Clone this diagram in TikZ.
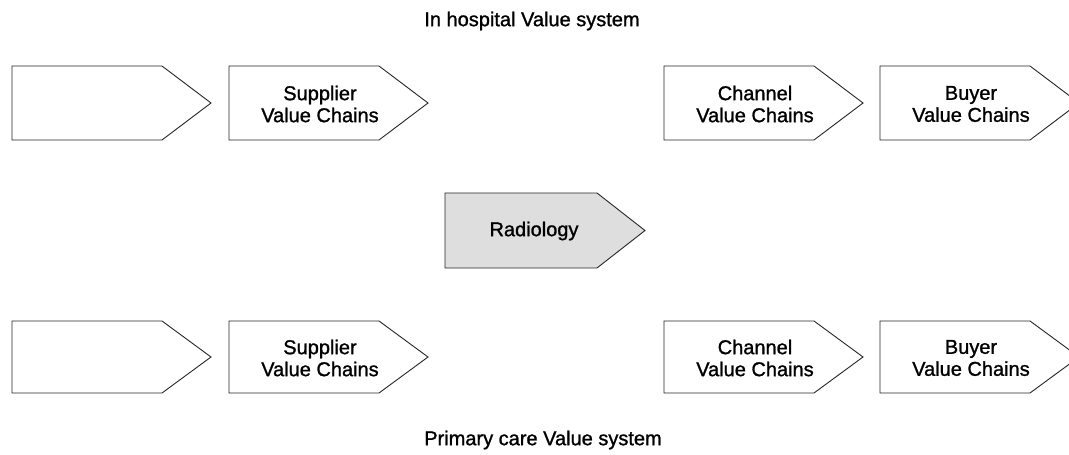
\documentclass[tikz,border=0pt]{standalone}
\usepackage{fontspec}
\setmainfont{Liberation Sans}
\newfontfamily\diagfont{Liberation Sans}[FakeBold=1.2]
\definecolor{radfill}{HTML}{DEDEDE}
\tikzset{
  chevbox/.style={draw=black!85, line width=0.9pt, fill=white, line join=miter},
  chevrad/.style={chevbox, fill=radfill},
  boxtext/.style={font=\diagfont\fontsize{20}{22}\selectfont, align=center, inner sep=0pt},
  titletext/.style={font=\diagfont\fontsize{20}{22}\selectfont, inner sep=0pt}
}
% #1 style, #2 left x, #3 top y, #4 bottom y, #5 name
\newcommand\chevshape[5]{%
  \path[#1] (#2,#3) -- ++(150,0) -- ($(#2,#3)!0.5!(#2,#4)+(199,0)$) -- (#2+150,#4) -- (#2,#4) -- cycle;
  \coordinate (#5) at ($(#2,#3)!0.5!(#2,#4)+(91,1)$);
}
\usetikzlibrary{calc}
\begin{document}
\begin{tikzpicture}[x=1pt,y=-1pt]
\useasboundingbox (0,0) rectangle (1069,455);
\clip (0,0) rectangle (1069,455);
\node[titletext] (t1) at (532,21) {In hospital Value system};
\node[titletext] (t2) at (543,440) {Primary care Value system};
% top row
\chevshape{chevbox}{12}{66}{140}{a1}
\chevshape{chevbox}{229}{66}{140}{a2}
\chevshape{chevbox}{664}{66}{140}{a3}
\chevshape{chevbox}{880}{66}{140}{a4}
\node[boxtext] (sup1) at (a2) {Supplier\\Value Chains};
\node[boxtext] (cha1) at (a3) {Channel\\Value Chains};
\node[boxtext] (buy1) at (a4) {Buyer\\Value Chains};
% middle
\path[chevrad] (445,193) -- (597,193) -- (645,230.5) -- (597,268) -- (445,268) -- cycle;
\node[boxtext] (rad) at (534,231) {Radiology};
% bottom row
\chevshape{chevbox}{12}{321}{393}{b1}
\chevshape{chevbox}{229}{321}{393}{b2}
\chevshape{chevbox}{664}{321}{393}{b3}
\chevshape{chevbox}{880}{321}{393}{b4}
\node[boxtext] (sup2) at (b2) {Supplier\\Value Chains};
\node[boxtext] (cha2) at (b3) {Channel\\Value Chains};
\node[boxtext] (buy2) at (b4) {Buyer\\Value Chains};
\end{tikzpicture}
\end{document}
